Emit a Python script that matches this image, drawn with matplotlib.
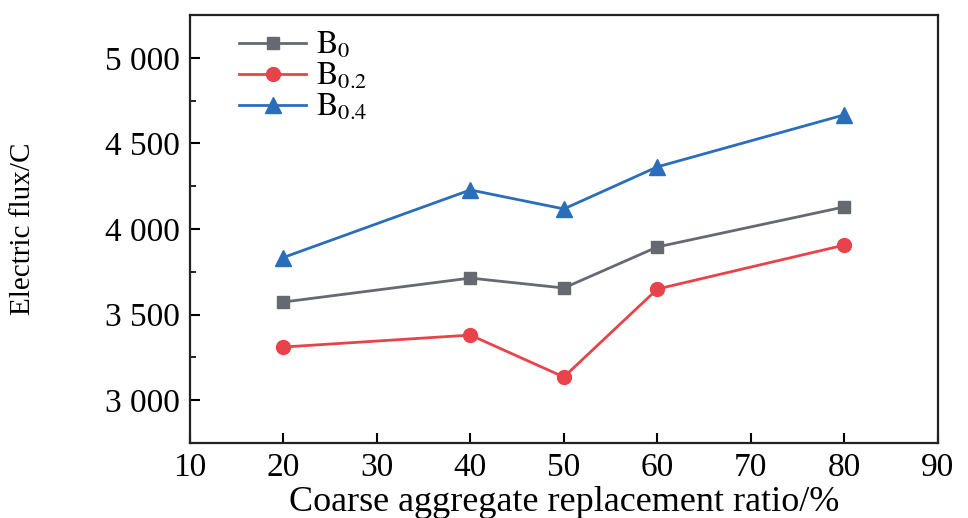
import matplotlib
matplotlib.use("Agg")
import matplotlib.pyplot as plt
from matplotlib.ticker import FuncFormatter, MultipleLocator

plt.rcParams['font.family'] = ['Liberation Serif', 'DejaVu Serif']
plt.rcParams['mathtext.fontset'] = 'stix'

# data
ratio = [20, 40, 50, 60, 80]
b0 = [3573, 3713, 3655, 3895, 4129]
b02 = [3310, 3380, 3135, 3649, 3906]
b04 = [3833, 4228, 4117, 4363, 4667]
labels = [r'$\mathrm{B}_{0}$', r'$\mathrm{B}_{0.2}$', r'$\mathrm{B}_{0.4}$']

fig = plt.figure(figsize=(9.68, 5.18), dpi=100)
ax = fig.add_axes([0.196, 0.145, 0.773, 0.826])

ax.plot(ratio, b0, color='#666a70', marker='s', markersize=9, lw=2, label=labels[0])
ax.plot(ratio, b02, color='#e8434a', marker='o', markersize=10, lw=2, label=labels[1])
ax.plot(ratio, b04, color='#2a6ebb', marker='^', markersize=11, lw=2, label=labels[2])

ax.set_xlim(10, 90)
ax.set_ylim(2750, 5250)
ax.xaxis.set_major_locator(MultipleLocator(10))
ax.yaxis.set_major_locator(MultipleLocator(500))
ax.yaxis.set_minor_locator(MultipleLocator(250))
ax.yaxis.set_major_formatter(FuncFormatter(lambda v, p: '{:,}'.format(int(v)).replace(',', ' ')))

ax.tick_params(axis='both', which='major', direction='in', length=7, width=1.5,
               labelsize=24, top=False, right=False, pad=7)
ax.tick_params(axis='y', which='minor', direction='in', length=4, width=1.2)
for s in ax.spines.values():
    s.set_linewidth(1.6)
    s.set_color('#222222')

ax.set_xlabel('Coarse aggregate replacement ratio/%', fontsize=26, labelpad=2)
ax.set_ylabel('Electric flux/C', fontsize=21)
ax.yaxis.set_label_coords(-0.205, 0.5)

leg = ax.legend(loc='upper left', bbox_to_anchor=(0.045, 1.0), frameon=False,
                fontsize=23, handlelength=2.1, handletextpad=0.3, labelspacing=0.02,
                borderaxespad=0.1)

fig.savefig('out.png', dpi=100)
